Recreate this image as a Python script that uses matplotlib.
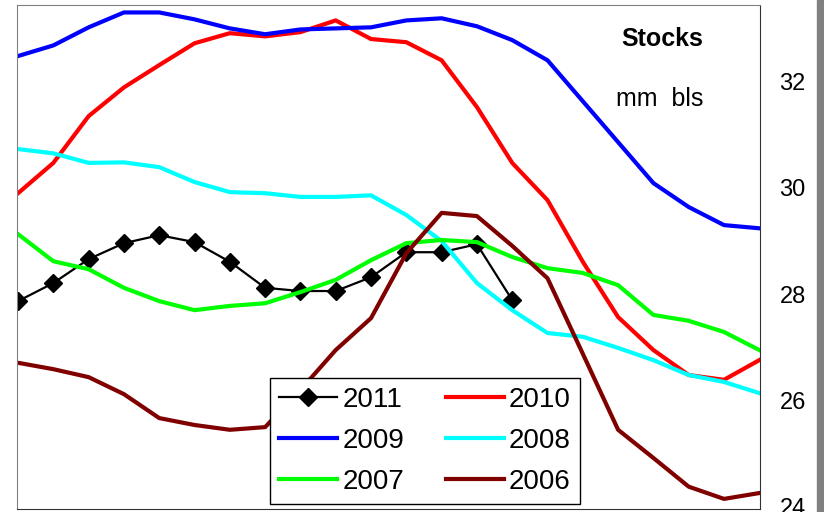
import matplotlib
matplotlib.use("Agg")
import matplotlib.pyplot as plt
from matplotlib.patches import Rectangle

plt.rcParams["font.family"] = ["Liberation Sans", "DejaVu Sans"]

# weekly stock levels, mm bls
weeks = list(range(22))
s2011 = [27.87, 28.21, 28.66, 28.96, 29.11, 28.98, 28.61, 28.12, 28.06, 28.06,
         28.32, 28.79, 28.79, 28.94, 27.89]
s2010 = [29.90, 30.47, 31.35, 31.89, 32.31, 32.72, 32.91, 32.85, 32.93, 33.15,
         32.80, 32.74, 32.40, 31.52, 30.47, 29.77, 28.61, 27.57, 26.95, 26.48,
         26.39, 26.76]
s2009 = [32.48, 32.68, 33.02, 33.30, 33.30, 33.17, 33.00, 32.89, 32.98, 33.00,
         33.02, 33.15, 33.19, 33.04, 32.78, 32.40, 31.63, 30.86, 30.09, 29.64,
         29.30, 29.24]
s2008 = [30.73, 30.65, 30.47, 30.48, 30.39, 30.11, 29.92, 29.90, 29.83, 29.83,
         29.86, 29.49, 29.00, 28.21, 27.70, 27.27, 27.20, 26.99, 26.76, 26.48,
         26.35, 26.14]
s2007 = [29.13, 28.62, 28.47, 28.12, 27.87, 27.70, 27.78, 27.83, 28.04, 28.27,
         28.64, 28.96, 29.02, 28.98, 28.70, 28.49, 28.40, 28.17, 27.61, 27.50,
         27.29, 26.95]
s2006 = [26.71, 26.59, 26.44, 26.12, 25.67, 25.54, 25.45, 25.50, 26.20, 26.95,
         27.55, 28.77, 29.53, 29.47, 28.91, 28.30, 26.88, 25.45, 24.92, 24.38,
         24.15, 24.26]

fig = plt.figure(figsize=(8.24, 5.12), dpi=100)
ax = fig.add_axes([17 / 824, 3 / 512, 743 / 824, 504 / 512])

ax.plot(weeks[:len(s2011)], s2011, color="black", lw=1.6, marker="D", ms=9, label="2011")
ax.plot(weeks, s2010, color="#ff0000", lw=3, label="2010")
ax.plot(weeks, s2009, color="#0000ff", lw=3, label="2009")
ax.plot(weeks, s2008, color="#00ffff", lw=3, label="2008")
ax.plot(weeks, s2007, color="#00ff00", lw=3, label="2007")
ax.plot(weeks, s2006, color="#800000", lw=3, label="2006")

ax.set_xlim(-0.03, 21.02)
ax.set_ylim(23.96, 33.44)
ax.set_xticks([])
ax.set_yticks([24, 26, 28, 30, 32])
ax.yaxis.tick_right()
ax.tick_params(axis="y", length=0, pad=14, labelsize=17)

for side in ["left", "top"]:
    ax.spines[side].set_color("#808080")
for side in ["right", "bottom"]:
    ax.spines[side].set_color("#333333")

ax.text(0.869, 0.9325, "Stocks", transform=ax.transAxes, ha="center", va="center",
        fontsize=18, fontweight="bold")
ax.text(0.8654, 0.8135, "mm  bls", transform=ax.transAxes, ha="center", va="center",
        fontsize=18)

# legend order: 2011 2010 / 2009 2008 / 2007 2006 (row-wise)
h, l = ax.get_legend_handles_labels()
order = [0, 2, 4, 1, 3, 5]
leg = ax.legend([h[i] for i in order], [l[i] for i in order], ncol=2,
                loc="lower left", bbox_to_anchor=(0.3405, 0.0099), borderaxespad=0,
                fontsize=20, handlelength=2.1, handletextpad=0.18, columnspacing=1.5,
                labelspacing=0.55, borderpad=0.32, fancybox=False, framealpha=1)
leg.get_frame().set_edgecolor("black")
leg.get_frame().set_linewidth(1)

# grey strip on the right edge
fig.patches.append(Rectangle((817 / 824, 0), 7 / 824, 1, transform=fig.transFigure,
                             color="#808080", zorder=0))

fig.savefig("out.png", dpi=100)
